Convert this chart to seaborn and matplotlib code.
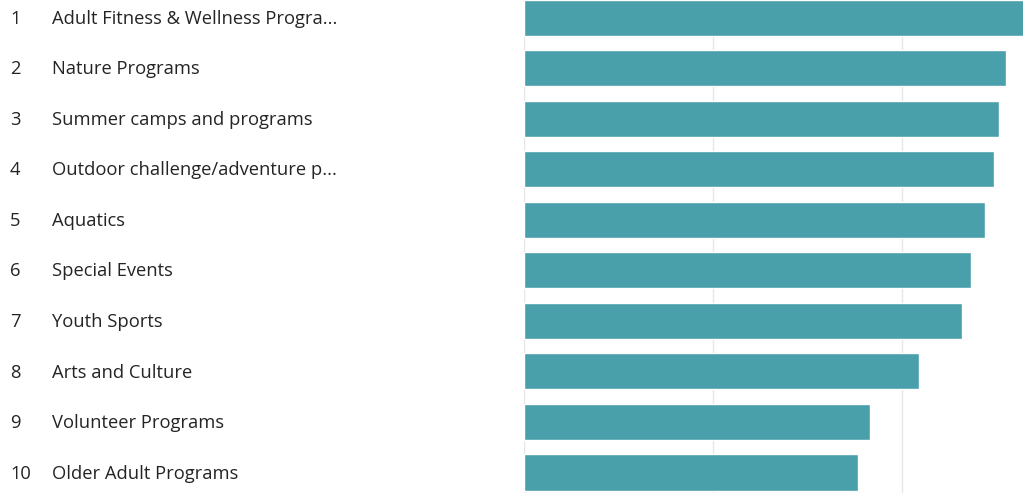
import numpy as np
import matplotlib.pyplot as plt
import matplotlib.transforms as mtransforms
import seaborn as sns

ranks = [1, 2, 3, 4, 5, 6, 7, 8, 9, 10]
programs = [
    "Adult Fitness & Wellness Progra...",
    "Nature Programs",
    "Summer camps and programs",
    "Outdoor challenge/adventure p...",
    "Aquatics",
    "Special Events",
    "Youth Sports",
    "Arts and Culture",
    "Volunteer Programs",
    "Older Adult Programs",
]
scores = [2.66, 2.55, 2.513, 2.487, 2.439, 2.365, 2.317, 2.09, 1.831, 1.767]

sns.set_style("white")
plt.rcParams["font.family"] = ["Open Sans", "DejaVu Sans"]

fig = plt.figure(figsize=(10.23, 4.93), dpi=100)
ax = fig.add_axes([524 / 1023, 0, 1 - 524 / 1023, 1])

sns.barplot(x=scores, y=list(range(len(scores))), orient="h", color="#4aa0aa",
            width=0.713, saturation=1, ax=ax, zorder=2)

ax.set_xlim(0, 499 / 189)
ax.set_ylim(9.406, -0.356)
ax.set_xticks([0, 1, 2])
ax.xaxis.grid(True, color="#e6e6e6", linewidth=1, zorder=0)
ax.set_axisbelow(True)
ax.tick_params(left=False, bottom=False, labelleft=False, labelbottom=False)
ax.set_xlabel("")
ax.set_ylabel("")
sns.despine(ax=ax, left=True, bottom=True, top=True, right=True)

trans = mtransforms.blended_transform_factory(fig.transFigure, ax.transData)
for i, (r, name) in enumerate(zip(ranks, programs)):
    ax.text(10 / 1023, i + 0.02, str(r), transform=trans, va="center", ha="left",
            fontsize=13.2, color="#252423", clip_on=False)
    ax.text(52 / 1023, i + 0.02, name, transform=trans, va="center", ha="left",
            fontsize=13.2, color="#252423", clip_on=False)

fig.savefig("out.png", dpi=100)
